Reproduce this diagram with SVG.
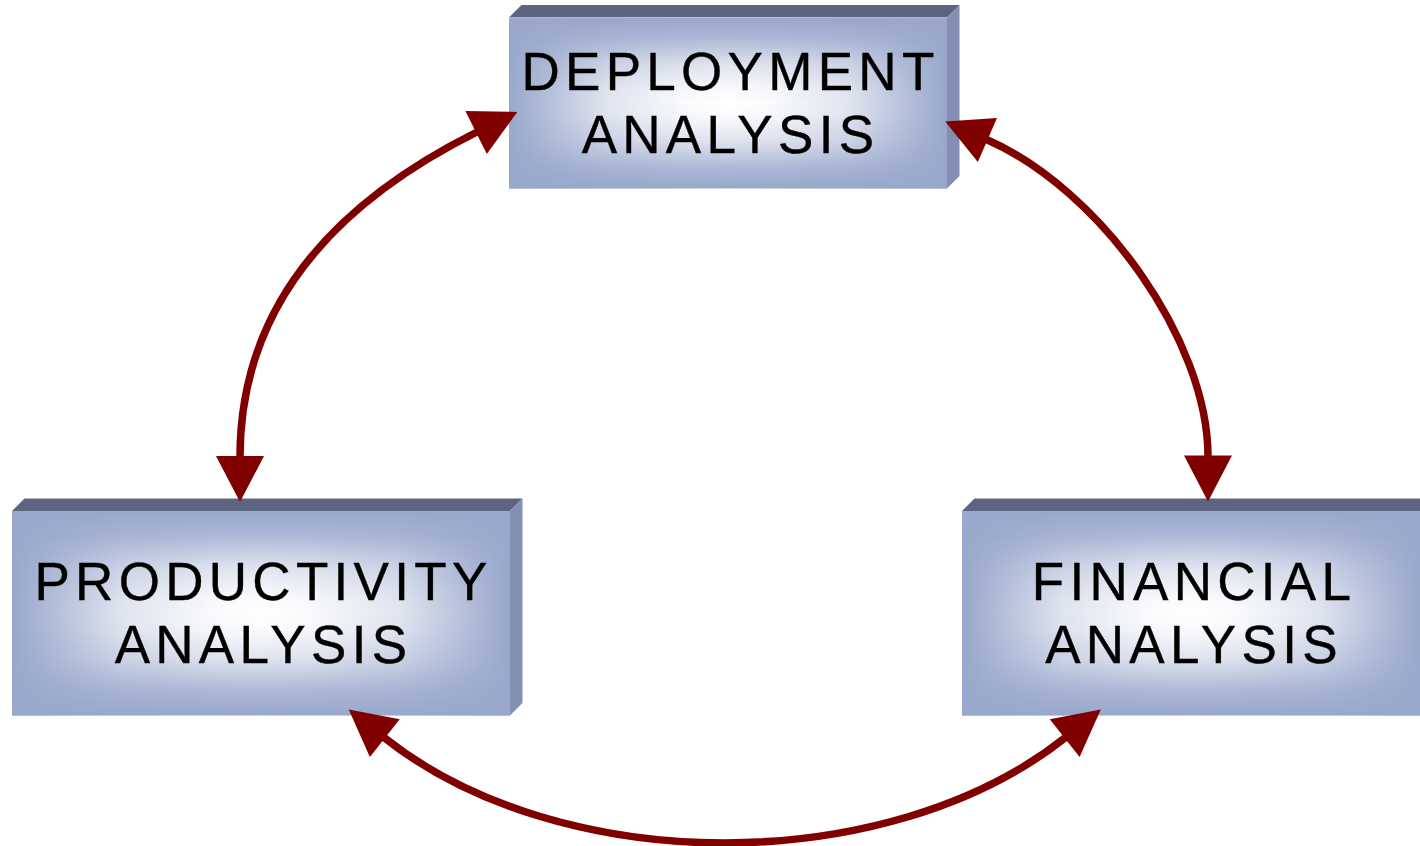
<svg xmlns="http://www.w3.org/2000/svg" width="1420" height="846" viewBox="0 0 1420 846">
  <style>
    .top { fill: #5C6480; }
    .side { fill: #8490B3; }
    .base { fill: #FFFFFF; }
    .gh { fill: url(#gradH); }
    .gv { fill: url(#gradV); }
    .label { font-family: "Liberation Sans", Arial, sans-serif; font-size: 53px; letter-spacing: 5.3px; fill: #000000; text-anchor: middle; stroke: #000000; stroke-width: 0.4px; }
    .conn { fill: none; stroke: #800000; stroke-width: 7.5; marker-start: url(#head); marker-end: url(#head); }
  </style>
  <defs>
    <linearGradient id="gradH" x1="0" y1="0" x2="1" y2="0">
      <stop offset="0" stop-color="#98A7CB" stop-opacity="1"/>
      <stop offset="0.08" stop-color="#98A7CB" stop-opacity="0.75"/>
      <stop offset="0.22" stop-color="#98A7CB" stop-opacity="0.3"/>
      <stop offset="0.4" stop-color="#98A7CB" stop-opacity="0.05"/>
      <stop offset="0.5" stop-color="#98A7CB" stop-opacity="0"/>
      <stop offset="0.6" stop-color="#98A7CB" stop-opacity="0.05"/>
      <stop offset="0.78" stop-color="#98A7CB" stop-opacity="0.3"/>
      <stop offset="0.92" stop-color="#98A7CB" stop-opacity="0.75"/>
      <stop offset="1" stop-color="#98A7CB" stop-opacity="1"/>
    </linearGradient>
    <linearGradient id="gradV" x1="0" y1="0" x2="0" y2="1">
      <stop offset="0" stop-color="#98A7CB" stop-opacity="1"/>
      <stop offset="0.12" stop-color="#98A7CB" stop-opacity="0.8"/>
      <stop offset="0.28" stop-color="#98A7CB" stop-opacity="0.3"/>
      <stop offset="0.42" stop-color="#98A7CB" stop-opacity="0.05"/>
      <stop offset="0.5" stop-color="#98A7CB" stop-opacity="0"/>
      <stop offset="0.58" stop-color="#98A7CB" stop-opacity="0.05"/>
      <stop offset="0.72" stop-color="#98A7CB" stop-opacity="0.3"/>
      <stop offset="0.88" stop-color="#98A7CB" stop-opacity="0.8"/>
      <stop offset="1" stop-color="#98A7CB" stop-opacity="1"/>
    </linearGradient>
    <marker id="head" markerUnits="userSpaceOnUse" markerWidth="50" markerHeight="50" refX="1" refY="24" orient="auto-start-reverse" overflow="visible">
      <path d="M0,0 L46,24 L0,48 Z" fill="#800000"/>
    </marker>
  </defs>
  <rect width="1420" height="846" fill="#FFFFFF"/>

  <g id="deployment">
    <polygon class="top" points="509,17.5 521.5,5 959.5,5 947,17.5"/>
    <polygon class="side" points="947,17.5 959.5,5 959.5,176 947,188.5"/>
    <rect class="base" x="509" y="17.5" width="438" height="171"/>
    <rect class="gh" x="509" y="17.5" width="438" height="171"/>
    <rect class="gv" x="509" y="17.5" width="438" height="171"/>
    <text class="label" x="730.5" y="90">DEPLOYMENT</text>
    <text class="label" x="730.5" y="153">ANALYSIS</text>
  </g>

  <g id="productivity">
    <polygon class="top" points="12,511 24.5,498.5 522.5,498.5 510,511"/>
    <polygon class="side" points="510,511 522.5,498.5 522.5,703 510,715.5"/>
    <rect class="base" x="12" y="511" width="498" height="204.5"/>
    <rect class="gh" x="12" y="511" width="498" height="204.5"/>
    <rect class="gv" x="12" y="511" width="498" height="204.5"/>
    <text class="label" x="263.5" y="600">PRODUCTIVITY</text>
    <text class="label" x="263.5" y="663">ANALYSIS</text>
  </g>

  <g id="financial">
    <polygon class="top" points="962,511 974.5,498.5 1432,498.5 1420,511"/>
    <rect class="base" x="962" y="511" width="458" height="204.5"/>
    <rect class="gh" x="962" y="511" width="458" height="204.5"/>
    <rect class="gv" x="962" y="511" width="458" height="204.5"/>
    <text class="label" x="1194" y="600">FINANCIAL</text>
    <text class="label" x="1194" y="663">ANALYSIS</text>
  </g>

  <g id="connectors">
    <path class="conn" d="M240,457 Q240,250 477,132"/>
    <path class="conn" d="M986.5,139.5 C1100,189 1208,340 1208,456.5"/>
    <path class="conn" d="M384,737.5 C561,878 888,878 1065.5,737.5"/>
  </g>
</svg>
